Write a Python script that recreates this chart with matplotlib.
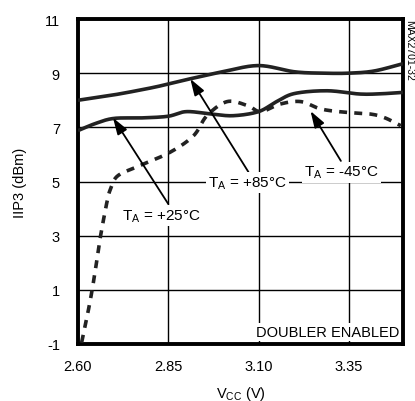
import matplotlib
matplotlib.use("Agg")
import matplotlib.pyplot as plt
import numpy as np

plt.rcParams['font.family'] = ['Liberation Sans Narrow', 'Liberation Sans', 'DejaVu Sans']
plt.rcParams['axes.unicode_minus'] = False

# Data
vcc_85 = [2.60, 2.70, 2.80, 2.85, 2.91, 3.00, 3.10, 3.20, 3.28, 3.35, 3.42, 3.50]
iip3_85 = [8.00, 8.20, 8.45, 8.60, 8.79, 9.05, 9.28, 9.05, 9.00, 9.00, 9.08, 9.35]

vcc_25 = [2.60, 2.65, 2.70, 2.78, 2.85, 2.90, 2.97, 3.03, 3.10, 3.15, 3.20, 3.29, 3.38, 3.44, 3.50]
iip3_25 = [6.88, 7.15, 7.33, 7.35, 7.41, 7.58, 7.49, 7.43, 7.58, 7.95, 8.25, 8.35, 8.23, 8.24, 8.29]

vcc_m45 = [2.61, 2.625, 2.638, 2.65, 2.661, 2.68, 2.69, 2.71, 2.77, 2.855, 2.92, 2.957,
           3.013, 3.07, 3.106, 3.16, 3.217, 3.272, 3.337, 3.41, 3.45, 3.494]
iip3_m45 = [-0.95, 0.00, 0.91, 1.90, 2.88, 4.23, 4.72, 5.21, 5.58, 6.08, 6.69, 7.43,
            7.95, 7.80, 7.58, 7.86, 7.95, 7.68, 7.56, 7.49, 7.35, 7.06]

x_ticks = [2.60, 2.85, 3.10, 3.35]
x_ticklabels = ["2.60", "2.85", "3.10", "3.35"]
y_ticks = [-1, 1, 3, 5, 7, 9, 11]

def smooth(xs, ys):
    xs = np.asarray(xs, float); ys = np.asarray(ys, float)
    pts = np.column_stack([xs, ys])
    P = np.vstack([pts[0] - (pts[1] - pts[0]), pts, pts[-1] + (pts[-1] - pts[-2])])
    out = []
    for i in range(1, len(P) - 2):
        p0, p1, p2, p3 = P[i - 1], P[i], P[i + 1], P[i + 2]
        t = np.linspace(0, 1, 25, endpoint=False)[:, None]
        seg = 0.5 * ((2 * p1) + (-p0 + p2) * t + (2 * p0 - 5 * p1 + 4 * p2 - p3) * t ** 2
                     + (-p0 + 3 * p1 - 3 * p2 + p3) * t ** 3)
        out.append(seg)
    out.append(pts[-1][None, :])
    s = np.vstack(out)
    return s[:, 0], s[:, 1]

fig = plt.figure(figsize=(4.15, 4.02), dpi=100)
ax = fig.add_axes([78 / 415, 57 / 402, 325 / 415, 325 / 402])

ax.set_xlim(2.60, 3.50)
ax.set_ylim(-1, 11)
ax.set_xticks(x_ticks)
ax.set_xticklabels(x_ticklabels)
ax.set_yticks(y_ticks)
ax.grid(True, color='black', linewidth=1.0)
ax.set_axisbelow(True)
ax.tick_params(axis='x', length=0, labelsize=10.5, pad=11)
ax.tick_params(axis='y', length=0, labelsize=10.5, pad=13)
for s in ax.spines.values():
    s.set_linewidth(2.8)

x, y = smooth(vcc_85, iip3_85)
ax.plot(x, y, color='#222222', lw=2.6, solid_capstyle='butt', zorder=3)
x, y = smooth(vcc_25, iip3_25)
ax.plot(x, y, color='#222222', lw=2.6, solid_capstyle='butt', zorder=3)
x, y = smooth(vcc_m45, iip3_m45)
ax.plot(x, y, color='#222222', lw=2.6, linestyle=(0, (2.2, 2.0)), zorder=3)

bbox = dict(facecolor='white', edgecolor='none', pad=1.5)
arrowprops = dict(arrowstyle='-|>,head_length=1.0,head_width=0.33', color='black', lw=1.3, shrinkA=0, shrinkB=0)

ax.annotate("", xy=(2.911, 8.79), xytext=(3.072, 5.35), arrowprops=arrowprops, zorder=4)
ax.annotate("", xy=(3.244, 7.60), xytext=(3.328, 5.76), arrowprops=arrowprops, zorder=4)
ax.annotate("", xy=(2.697, 7.35), xytext=(2.850, 4.17), arrowprops=arrowprops, zorder=4)

ax.text(3.07, 4.95, r"T$_\mathregular{A}$ = +85°C", ha='center', va='center', fontsize=11, bbox=bbox, zorder=5)
ax.text(3.33, 5.35, r"T$_\mathregular{A}$ = -45°C", ha='center', va='center', fontsize=11, bbox=bbox, zorder=5)
ax.text(2.83, 3.75, r"T$_\mathregular{A}$ = +25°C", ha='center', va='center', fontsize=11, bbox=bbox, zorder=5)
ax.text(3.49, -0.55, "DOUBLER ENABLED", ha='right', va='center', fontsize=10.5, bbox=bbox, zorder=5)

ax.set_ylabel("IIP3 (dBm)", fontsize=10.5, labelpad=13)
ax.set_xlabel(r"V$_\mathregular{CC}$ (V)", fontsize=10.5, labelpad=8)

fig.text(409 / 415, 1 - 50 / 402, "MAX2701-32", rotation=270, ha='center', va='center', fontsize=7.5)

fig.savefig("out.png", dpi=100)
